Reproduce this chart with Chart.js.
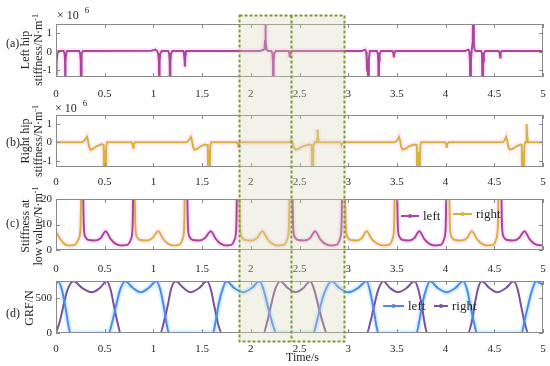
<!DOCTYPE html>
<html>
<head>
<meta charset="utf-8">
<script src="https://cdn.jsdelivr.net/npm/chart.js@4"></script>
<style>
  html, body { margin: 0; padding: 0; background: #fff; }
  #wrap { position: relative; width: 550px; height: 366px; overflow: hidden;
          font-family: "Liberation Serif", "DejaVu Serif", serif; color: #262626; }
  #wrap canvas { position: absolute; left: 0; }
  .txt { position: absolute; white-space: nowrap; font-size: 12px; line-height: 12px; }
  .yt { position: absolute; white-space: nowrap; font-size: 12px; line-height: 13px; text-align: center;
        transform: translate(-50%, -50%) rotate(-90deg); }
  sup { font-size: 8px; line-height: 0; vertical-align: 4px; }
  .e6 sup { font-size: 9px; vertical-align: 6px; margin-left: 6px; }
</style>
</head>
<body>
<div id="wrap">
  <canvas id="cA" width="550" height="100" style="top:0px"></canvas>
  <canvas id="cB" width="550" height="90" style="top:100px"></canvas>
  <canvas id="cC" width="550" height="85" style="top:190px"></canvas>
  <canvas id="cD" width="550" height="91" style="top:275px"></canvas>
  <canvas id="overlay" width="550" height="366" style="top:0px"></canvas>

  <div class="txt" style="left:6px;top:37px">(a)</div>
  <div class="txt" style="left:6px;top:136px">(b)</div>
  <div class="txt" style="left:6px;top:217px">(c)</div>
  <div class="txt" style="left:6px;top:307px">(d)</div>

  <div class="txt e6" style="left:57px;top:9px">× 10<sup>6</sup></div>
  <div class="txt e6" style="left:55px;top:102px">× 10<sup>6</sup></div>

  <div class="yt" style="left:32px;top:50px">Left hip<br>stiffness/N·m<sup>-1</sup></div>
  <div class="yt" style="left:32px;top:141px">Right hip<br>stiffness/N·m<sup>-1</sup></div>
  <div class="yt" style="left:32px;top:226px">Stiffness at<br>low value/N·m<sup>-1</sup></div>
  <div class="yt" style="left:29px;top:308px">GRF/N</div>

  <div class="txt" style="left:286px;top:351px">Time/s</div>
</div>

<script>
// ---- data ----
const timeTicks = [0, 0.5, 1, 1.5, 2, 2.5, 3, 3.5, 4, 4.5, 5];
const hipTicks = [-1, 0, 1];          // x 10^6
const lowTicks = [0, 10, 20];
const grfTicks = [0, 500];

// (a) left hip stiffness, 10^6 N/m  [time, value]
const leftHip = [
  [0, -1.2], [0.006, -0.55], [0.013, -0.12], [0.025, 0.05],
  [0.078, 0.05], [0.088, -0.1], [0.093, -0.5], [0.096, -3], [0.099, -0.5], [0.104, -0.1], [0.114, 0.05],
  [0.238, 0.05], [0.248, -0.1], [0.254, -0.5], [0.257, -3], [0.26, -0.5], [0.266, -0.1], [0.276, 0.05],
  [0.98, 0.06], [1.02, 0.12], [1.038, 0.05], [1.05, -0.1], [1.056, -0.5], [1.06, -3], [1.064, -0.5], [1.07, -0.1], [1.085, 0.05],
  [1.152, 0.05], [1.162, -0.1], [1.167, -0.5], [1.171, -3], [1.175, -0.5], [1.181, -0.1], [1.195, 0.05],
  [1.305, 0.05], [1.314, -0.1], [1.319, -0.4], [1.323, -0.8], [1.328, -0.3], [1.337, 0.05],
  [2.09, 0.05], [2.125, 0.1], [2.14, 0.15], [2.146, 0.6], [2.15, 3], [2.154, 0.6], [2.162, 0.12], [2.18, 0.05],
  [2.212, 0.05], [2.222, -0.1], [2.227, -0.5], [2.231, -3], [2.235, -0.5], [2.241, -0.1], [2.255, 0.05],
  [2.388, 0.05], [2.396, -0.08], [2.401, -0.3], [2.406, -0.08], [2.415, 0.05],
  [3.14, 0.05], [3.175, 0.12], [3.185, 0], [3.19, -0.4], [3.194, -1.0], [3.199, -0.4], [3.203, -0.5], [3.207, -3], [3.212, -0.4], [3.222, 0.05],
  [3.295, 0.05], [3.304, -0.1], [3.309, -0.5], [3.313, -3], [3.317, -0.5], [3.323, -0.1], [3.337, 0.05],
  [3.455, 0.05], [3.464, -0.08], [3.469, -0.3], [3.474, -0.08], [3.484, 0.05],
  [4.2, 0.05], [4.235, 0.12], [4.244, 0], [4.25, -0.5], [4.255, -3], [4.26, -0.5], [4.268, 0.1], [4.278, 0.5], [4.284, 3], [4.29, 0.5], [4.298, 0.1], [4.31, 0.05],
  [4.365, 0.05], [4.374, -0.1], [4.379, -0.5], [4.383, -3], [4.387, -0.5], [4.393, -0.1], [4.407, 0.05],
  [4.546, 0.05], [4.555, -0.08], [4.56, -0.3], [4.565, -0.08], [4.575, 0.05],
  [5, 0.05]
];

// (b) right hip stiffness, 10^6 N/m
const rightHip = [
  [0, 0], [0.27, 0], [0.295, 0.12], [0.318, 0.3], [0.328, 0.12], [0.34, -0.25], [0.355, -0.4], [0.38, -0.35], [0.42, -0.2], [0.47, -0.1],
  [0.49, -0.15], [0.494, -3], [0.498, -0.5], [0.503, -3], [0.507, -0.4], [0.512, -3], [0.516, -0.2], [0.525, 0],
  [0.775, 0], [0.786, -0.1], [0.792, -0.3], [0.798, -0.1], [0.81, 0],
  [1.345, 0], [1.365, 0.12], [1.385, 0.3], [1.395, 0.12], [1.407, -0.25], [1.422, -0.4], [1.45, -0.35], [1.49, -0.2], [1.53, -0.12],
  [1.558, -0.15], [1.562, -3], [1.566, -0.5], [1.571, -3], [1.575, -0.4], [1.58, -3], [1.584, -0.2], [1.595, 0],
  [1.855, 0], [1.866, -0.08], [1.872, -0.22], [1.878, -0.08], [1.89, 0],
  [2.4, 0], [2.415, 0.1], [2.428, -0.05], [2.445, -0.3], [2.46, -0.4], [2.49, -0.35], [2.53, -0.22], [2.6, -0.12],
  [2.625, -0.15], [2.63, -3], [2.634, -0.5], [2.638, -3], [2.643, -0.2], [2.655, 0], [2.676, 0], [2.682, 0.2], [2.686, 0.7], [2.69, 0.2], [2.696, 0],
  [2.915, 0], [2.926, -0.06], [2.932, -0.15], [2.938, -0.06], [2.95, 0],
  [3.48, 0], [3.505, 0.12], [3.522, 0.3], [3.532, 0.12], [3.544, -0.25], [3.56, -0.4], [3.59, -0.35], [3.63, -0.2], [3.68, -0.12],
  [3.705, -0.15], [3.709, -3], [3.713, -0.5], [3.718, -3], [3.722, -0.5], [3.727, -3], [3.731, -0.5], [3.736, -3], [3.74, -0.2], [3.75, 0],
  [3.995, 0], [4.005, -0.1], [4.011, -0.3], [4.017, -0.1], [4.03, 0],
  [4.585, 0], [4.607, 0.12], [4.622, 0.3], [4.632, 0.12], [4.644, -0.25], [4.66, -0.4], [4.69, -0.35], [4.73, -0.2], [4.77, -0.12],
  [4.782, -0.15], [4.786, -3], [4.79, -0.5], [4.795, -3], [4.799, -0.5], [4.804, -3], [4.808, -0.2], [4.818, 0],
  [4.826, 0], [4.83, 0.3], [4.834, 1.0], [4.838, 0.3], [4.842, 0],
  [5, 0]
];

// (c) stiffness at low value, N/m (values above 20 leave the axis)
const lowLeft = [
  [0.276, 30], [0.286, 9], [0.30, 5.2], [0.34, 3.9], [0.40, 3.7], [0.46, 4.7], [0.51, 7.4], [0.56, 4.4], [0.61, 2.5], [0.67, 1.8], [0.73, 2.0], [0.77, 4.3], [0.786, 9], [0.795, 30], [0.8, null],
  [1.345, 30], [1.355, 9], [1.37, 5.2], [1.41, 3.9], [1.47, 3.7], [1.53, 4.7], [1.59, 7.4], [1.64, 4.4], [1.69, 2.5], [1.75, 1.8], [1.80, 2.0], [1.835, 4.3], [1.851, 9], [1.86, 30], [1.87, null],
  [2.425, 30], [2.435, 9], [2.45, 5.2], [2.49, 3.9], [2.55, 3.7], [2.61, 4.7], [2.66, 7.4], [2.71, 4.4], [2.76, 2.5], [2.82, 1.8], [2.88, 2.0], [2.915, 4.3], [2.931, 9], [2.94, 30], [2.95, null],
  [3.50, 30], [3.51, 9], [3.525, 5.2], [3.565, 3.9], [3.625, 3.7], [3.68, 4.7], [3.73, 7.4], [3.78, 4.4], [3.83, 2.5], [3.89, 1.8], [3.95, 2.0], [3.985, 4.3], [4.001, 9], [4.01, 30], [4.02, null],
  [4.57, 30], [4.58, 9], [4.595, 5.2], [4.635, 3.9], [4.695, 3.7], [4.755, 4.7], [4.81, 7.4], [4.86, 4.4], [4.91, 2.5], [4.96, 1.9], [5, 1.9]
];
const lowRight = [
  [0, 7.2], [0.04, 4.6], [0.08, 2.6], [0.13, 1.8], [0.19, 2.0], [0.232, 4.3], [0.252, 9], [0.262, 30], [0.27, null],
  [0.805, 30], [0.815, 9], [0.83, 5.2], [0.87, 3.9], [0.93, 3.7], [0.99, 4.7], [1.05, 7.4], [1.10, 4.4], [1.15, 2.5], [1.21, 1.8], [1.26, 2.0], [1.30, 4.3], [1.316, 9], [1.325, 30], [1.33, null],
  [1.88, 30], [1.89, 9], [1.905, 5.2], [1.945, 3.9], [2.005, 3.7], [2.065, 4.7], [2.12, 7.4], [2.17, 4.4], [2.22, 2.5], [2.28, 1.8], [2.34, 2.0], [2.375, 4.3], [2.391, 9], [2.40, 30], [2.41, null],
  [2.965, 30], [2.975, 9], [2.99, 5.2], [3.03, 3.9], [3.09, 3.7], [3.14, 4.7], [3.19, 7.4], [3.24, 4.4], [3.30, 2.5], [3.36, 1.8], [3.42, 2.0], [3.455, 4.3], [3.471, 9], [3.48, 30], [3.49, null],
  [4.035, 30], [4.045, 9], [4.06, 5.2], [4.10, 3.9], [4.16, 3.7], [4.22, 4.7], [4.27, 7.4], [4.32, 4.4], [4.37, 2.5], [4.43, 1.8], [4.49, 2.0], [4.52, 4.3], [4.536, 9], [4.545, 30], [4.55, null]
];

// (d) ground reaction force, N
const grfLeft = [
  [0, 695], [0.02, 735], [0.06, 620], [0.10, 340], [0.13, 90], [0.15, 0],
  [0.54, 0], [0.58, 170], [0.62, 410], [0.66, 620], [0.71, 735], [0.79, 640], [0.87, 580], [0.95, 640], [1.03, 735], [1.07, 620], [1.11, 350], [1.14, 100], [1.16, 0],
  [1.61, 0], [1.64, 170], [1.67, 410], [1.71, 620], [1.75, 735], [1.83, 640], [1.92, 580], [2.01, 640], [2.09, 735], [2.13, 620], [2.18, 350], [2.23, 100], [2.26, 0],
  [2.64, 0], [2.68, 170], [2.72, 410], [2.77, 620], [2.83, 735], [2.91, 640], [3.0, 580], [3.1, 640], [3.19, 735], [3.22, 620], [3.26, 350], [3.29, 100], [3.31, 0],
  [3.70, 0], [3.73, 170], [3.76, 410], [3.80, 620], [3.84, 735], [3.92, 640], [4.01, 580], [4.10, 640], [4.18, 735], [4.22, 620], [4.26, 350], [4.30, 100], [4.32, 0],
  [4.78, 0], [4.81, 170], [4.85, 410], [4.89, 620], [4.93, 735], [4.97, 710], [5, 690]
];
const grfRight = [
  [0, 0], [0.04, 170], [0.08, 410], [0.12, 620], [0.18, 735], [0.27, 640], [0.37, 580], [0.45, 640], [0.52, 735], [0.56, 620], [0.60, 350], [0.64, 100], [0.66, 0],
  [1.07, 0], [1.11, 170], [1.15, 410], [1.18, 620], [1.23, 735], [1.31, 640], [1.38, 580], [1.47, 640], [1.55, 735], [1.59, 620], [1.63, 350], [1.67, 100], [1.70, 0],
  [2.13, 0], [2.17, 170], [2.21, 410], [2.25, 620], [2.30, 735], [2.38, 640], [2.46, 580], [2.54, 640], [2.61, 735], [2.65, 620], [2.70, 350], [2.75, 100], [2.78, 0],
  [3.19, 0], [3.23, 170], [3.27, 410], [3.31, 620], [3.36, 735], [3.43, 640], [3.51, 580], [3.60, 640], [3.68, 735], [3.72, 620], [3.76, 350], [3.79, 100], [3.81, 0],
  [4.23, 0], [4.27, 170], [4.30, 410], [4.33, 620], [4.37, 735], [4.45, 640], [4.53, 580], [4.62, 640], [4.70, 735], [4.74, 620], [4.78, 350], [4.82, 100], [4.85, 0],
  [5, 0]
];

// highlighted time window (two dashed boxes)
const windowTimes = [1.88, 2.41, 2.96];

// ---- styles ----
const PURPLE = '#a9469c';
const YELLOW = '#d8b33c';
const BLUE = '#5585ea';
const DPURPLE = '#7b5198';
const PINK_HALO = 'rgba(255, 175, 235, 0.25)';
const CYAN_HALO = 'rgba(140, 225, 255, 0.35)';

Chart.defaults.font.family = '"Liberation Serif", "DejaVu Serif", serif';
Chart.defaults.font.size = 11;
Chart.defaults.color = '#262626';

function series(points, color, width, order, smooth) {
  return {
    data: points.map(p => ({ x: p[0], y: p[1] })),
    borderColor: color,
    borderWidth: width,
    pointRadius: 0,
    fill: false,
    clip: 0,
    spanGaps: false,
    order: order,
    tension: smooth ? 0.4 : 0,
    cubicInterpolationMode: smooth ? 'monotone' : 'default'
  };
}

// MATLAB-like box with inward ticks on all four sides
const boxPlugin = {
  id: 'matlabBox',
  afterDatasetsDraw(chart) {
    const { ctx, chartArea: a, scales } = chart;
    ctx.save();
    ctx.strokeStyle = '#8a8a8a';
    ctx.lineWidth = 1;
    ctx.strokeRect(a.left + 0.5, a.top + 0.5, a.right - a.left - 1, a.bottom - a.top - 1);
    ctx.beginPath();
    scales.x.ticks.forEach(t => {
      const px = Math.round(scales.x.getPixelForValue(t.value)) + 0.5;
      ctx.moveTo(px, a.bottom); ctx.lineTo(px, a.bottom - 4);
      ctx.moveTo(px, a.top); ctx.lineTo(px, a.top + 4);
    });
    scales.y.ticks.forEach(t => {
      const py = Math.round(scales.y.getPixelForValue(t.value)) + 0.5;
      ctx.moveTo(a.left, py); ctx.lineTo(a.left + 4, py);
      ctx.moveTo(a.right, py); ctx.lineTo(a.right - 4, py);
    });
    ctx.stroke();
    ctx.restore();
  }
};

// legend drawn inside the plot area
const inLegend = {
  id: 'inLegend',
  afterDraw(chart, args, opts) {
    if (!opts.items) return;
    const ctx = chart.ctx;
    ctx.save();
    ctx.font = '13px "Liberation Serif", serif';
    ctx.textBaseline = 'middle';
    opts.items.forEach(it => {
      ctx.strokeStyle = it.color;
      ctx.lineWidth = 2;
      ctx.beginPath();
      ctx.moveTo(it.x, it.y);
      ctx.lineTo(it.x + it.len, it.y);
      ctx.stroke();
      ctx.fillStyle = it.color;
      ctx.beginPath();
      ctx.arc(it.x + it.len / 2, it.y, 2, 0, Math.PI * 2);
      ctx.fill();
      ctx.fillStyle = '#262626';
      ctx.fillText(it.label, it.x + it.len + 4, it.y + 1);
    });
    ctx.restore();
  }
};

function makePanel(id, cfg) {
  return new Chart(document.getElementById(id), {
    type: 'line',
    data: { datasets: cfg.datasets },
    plugins: [boxPlugin, inLegend],
    options: {
      responsive: false,
      devicePixelRatio: 1,
      animation: false,
      events: [],
      layout: { padding: { top: cfg.padTop, right: 7, left: 0, bottom: 0 } },
      plugins: {
        legend: { display: false },
        tooltip: { enabled: false },
        inLegend: { items: cfg.legend || null }
      },
      scales: {
        x: {
          type: 'linear',
          min: 0,
          max: 5,
          afterBuildTicks: ax => { ax.ticks = timeTicks.map(v => ({ value: v })); },
          afterFit: ax => { ax.height = cfg.axisH; ax.paddingLeft = 0; ax.paddingRight = 0; },
          grid: { display: false, drawTicks: false },
          border: { display: false },
          ticks: { padding: cfg.tickPad, maxRotation: 0, autoSkip: false, callback: v => String(v) }
        },
        y: {
          type: 'linear',
          min: cfg.yMin,
          max: cfg.yMax,
          afterBuildTicks: ax => { ax.ticks = cfg.yTicks.map(v => ({ value: v })); },
          afterFit: ax => { ax.width = 56; ax.paddingTop = 0; ax.paddingBottom = 0; },
          grid: { display: false, drawTicks: false },
          border: { display: false },
          ticks: { padding: 4, autoSkip: false, callback: v => String(v) }
        }
      }
    }
  });
}

const chartA = makePanel('cA', {
  padTop: 24, axisH: 23, tickPad: 11, yMin: -1.35, yMax: 1.5, yTicks: hipTicks,
  datasets: [
    series(leftHip, PURPLE, 2, 0, false),
    series(leftHip, PINK_HALO, 6, 5, false)
  ]
});

const chartB = makePanel('cB', {
  padTop: 15, axisH: 23, tickPad: 9, yMin: -1.35, yMax: 1.5, yTicks: hipTicks,
  datasets: [
    series(rightHip, YELLOW, 2, 0, false),
    series(rightHip, PINK_HALO, 6, 5, false)
  ]
});

const chartC = makePanel('cC', {
  padTop: 9, axisH: 25, tickPad: 13, yMin: 0, yMax: 20, yTicks: lowTicks,
  datasets: [
    series(lowLeft, PURPLE, 2, 0, true),
    series(lowRight, YELLOW, 2, 1, true),
    series(lowLeft, PINK_HALO, 6, 5, true),
    series(lowRight, PINK_HALO, 6, 6, true)
  ],
  legend: [
    { x: 401, y: 26, len: 18, color: PURPLE, label: 'left' },
    { x: 453, y: 24, len: 19, color: YELLOW, label: 'right' }
  ]
});

const chartD = makePanel('cD', {
  padTop: 6, axisH: 33, tickPad: 10, yMin: 0, yMax: 740, yTicks: grfTicks,
  datasets: [
    series(grfLeft, BLUE, 2, 0, true),
    series(grfRight, DPURPLE, 2, 1, true),
    series(grfLeft, CYAN_HALO, 6, 5, true)
  ],
  legend: [
    { x: 383, y: 31, len: 21, color: BLUE, label: 'left' },
    { x: 434, y: 31, len: 14, color: DPURPLE, label: 'right' }
  ]
});

// shaded, dotted time window spanning all four panels
(function drawWindow() {
  const ctx = document.getElementById('overlay').getContext('2d');
  const xs = chartA.scales.x;
  const px = windowTimes.map(t => Math.round(xs.getPixelForValue(t)) + 0.5);
  const top = 15.5, bottom = 341.5;
  ctx.fillStyle = 'rgba(215, 215, 185, 0.33)';
  ctx.fillRect(px[0], top, px[2] - px[0], bottom - top);
  ctx.strokeStyle = '#7d9a34';
  ctx.lineWidth = 2;
  ctx.setLineDash([3, 2]);
  ctx.strokeRect(px[0], top, px[2] - px[0], bottom - top);
  ctx.beginPath();
  ctx.moveTo(px[1], top);
  ctx.lineTo(px[1], bottom);
  ctx.stroke();
})();
</script>
</body>
</html>
